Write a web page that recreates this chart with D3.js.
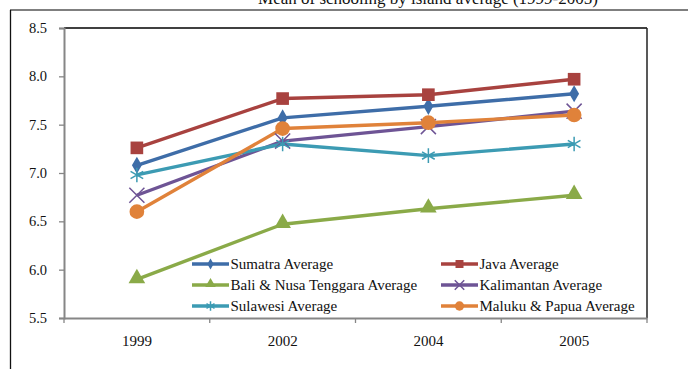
<!DOCTYPE html>
<html><head><meta charset="utf-8">
<script src="https://cdn.jsdelivr.net/npm/d3@7"></script>
<style>html,body{margin:0;padding:0;background:#fff;overflow:hidden}svg{display:block}</style>
</head><body>
<svg id="c" width="688" height="369"></svg>
<script>
const title = "Mean of schooling by island average (1999-2005)";
const years = ["1999", "2002", "2004", "2005"];
const yTicks = [5.5, 6.0, 6.5, 7.0, 7.5, 8.0, 8.5];
const seriesNames = ["Sumatra Average", "Java Average", "Bali & Nusa Tenggara Average", "Kalimantan  Average", "Sulawesi Average", "Maluku & Papua Average"];
const sumatra = [7.08, 7.57, 7.69, 7.82];
const java = [7.26, 7.77, 7.81, 7.97];
const bali = [5.90, 6.47, 6.63, 6.77];
const kalimantan = [6.77, 7.33, 7.48, 7.64];
const sulawesi = [6.98, 7.30, 7.18, 7.30];
const maluku = [6.60, 7.46, 7.52, 7.60];
const colors = ["#3E6DA8", "#A8423F", "#8AAA48", "#6E5495", "#3C9BB3", "#E0823A"];
const symbols = ["diamond", "square", "triangle", "x", "asterisk", "circle"];

const values = [sumatra, java, bali, kalimantan, sulawesi, maluku];
const series = seriesNames.map((n, i) => ({name: n, values: values[i], color: colors[i], sym: symbols[i]}));

const svg = d3.select("#c");
const L = 64, R = 647, T = 28, B = 318;
const x = d3.scaleBand().domain(years).range([L, R]).padding(0);
const y = d3.scaleLinear().domain([5.5, 8.5]).range([B, T]);
const serif = "'Liberation Serif','Times New Roman',serif";

// outer chart frame
svg.append("line").attr("x1", 10).attr("x2", 688).attr("y1", 10).attr("y2", 10).attr("stroke", "#555").attr("stroke-width", 1.3);
svg.append("line").attr("x1", 10.5).attr("x2", 10.5).attr("y1", 10).attr("y2", 369).attr("stroke", "#111").attr("stroke-width", 1.3);

// title
svg.append("text").attr("x", 428).attr("y", 4).attr("text-anchor", "middle")
  .attr("font-family", serif).attr("font-size", 17).attr("fill", "#111").text(title);

// plot area border (top and right)
svg.append("line").attr("x1", L).attr("x2", R).attr("y1", T).attr("y2", T).attr("stroke", "#404040").attr("stroke-width", 2);
svg.append("line").attr("x1", R).attr("x2", R).attr("y1", T).attr("y2", B).attr("stroke", "#222").attr("stroke-width", 1.5);

// y axis
const yAxis = svg.append("g").attr("transform", `translate(${L},0)`)
  .call(d3.axisLeft(y).tickValues(yTicks).tickFormat(d3.format(".1f")).tickSize(5).tickPadding(12));
yAxis.select(".domain").attr("stroke", "#868686").attr("stroke-width", 2);
yAxis.selectAll(".tick line").attr("stroke", "#868686").attr("stroke-width", 1.3);
yAxis.selectAll("text").attr("font-family", serif).attr("font-size", 14.5).attr("fill", "#111");

// x axis
const xAxis = svg.append("g").attr("transform", `translate(0,${B})`)
  .call(d3.axisBottom(x).tickSize(0).tickPadding(17));
xAxis.select(".domain").attr("stroke", "#868686").attr("stroke-width", 2);
xAxis.selectAll("text").attr("font-family", serif).attr("font-size", 15).attr("fill", "#111");
xAxis.selectAll(".bt").data([...years.map(d => x(d)), R]).enter().append("line")
  .attr("x1", d => d).attr("x2", d => d).attr("y1", 0).attr("y2", 5).attr("stroke", "#868686").attr("stroke-width", 1.3);

const cx = d => x(d) + x.bandwidth() / 2;

function marker(g, sym, color, scale) {
  if (sym === "diamond") g.append("path").attr("d", d3.symbol(d3.symbolDiamond, 85 * scale)()).attr("fill", color);
  else if (sym === "square") g.append("path").attr("d", d3.symbol(d3.symbolSquare, 160 * scale)()).attr("fill", color);
  else if (sym === "triangle") g.append("path").attr("d", d3.symbol(d3.symbolTriangle, 120 * scale)()).attr("fill", color).attr("transform", "translate(0,-1)");
  else if (sym === "circle") g.append("path").attr("d", d3.symbol(d3.symbolCircle, 170 * scale)()).attr("fill", color);
  else if (sym === "x") g.append("path").attr("d", d3.symbol(d3.symbolX, 150 * scale)()).attr("fill", "none").attr("stroke", color).attr("stroke-width", 1.5);
  else if (sym === "asterisk") g.append("path").attr("d", d3.symbol(d3.symbolAsterisk, 150 * scale)()).attr("fill", "none").attr("stroke", color).attr("stroke-width", 1.5);
}

const line = d3.line().x((d, i) => cx(years[i])).y(d => y(d));
series.forEach(s => {
  svg.append("path").datum(s.values).attr("d", line).attr("fill", "none")
    .attr("stroke", s.color).attr("stroke-width", 3.4).attr("stroke-linejoin", "round");
});
series.forEach(s => {
  s.values.forEach((v, i) => {
    const g = svg.append("g").attr("transform", `translate(${cx(years[i])},${y(v)})`);
    marker(g, s.sym, s.color, 1);
  });
});

// legend
const legX = [192, 441], legY = [264, 285, 306];
series.forEach((s, i) => {
  const col = i % 2, row = Math.floor(i / 2);
  const g = svg.append("g").attr("transform", `translate(${legX[col]},${legY[row]})`);
  g.append("line").attr("x1", 0).attr("x2", 37).attr("y1", 0).attr("y2", 0).attr("stroke", s.color).attr("stroke-width", 3.4);
  const m = g.append("g").attr("transform", "translate(18.5,0)");
  marker(m, s.sym, s.color, 0.4);
  g.append("text").attr("x", 38.5).attr("y", 5).attr("font-family", serif).attr("font-size", 15).attr("fill", "#111").text(s.name);
});
</script>
</body></html>
